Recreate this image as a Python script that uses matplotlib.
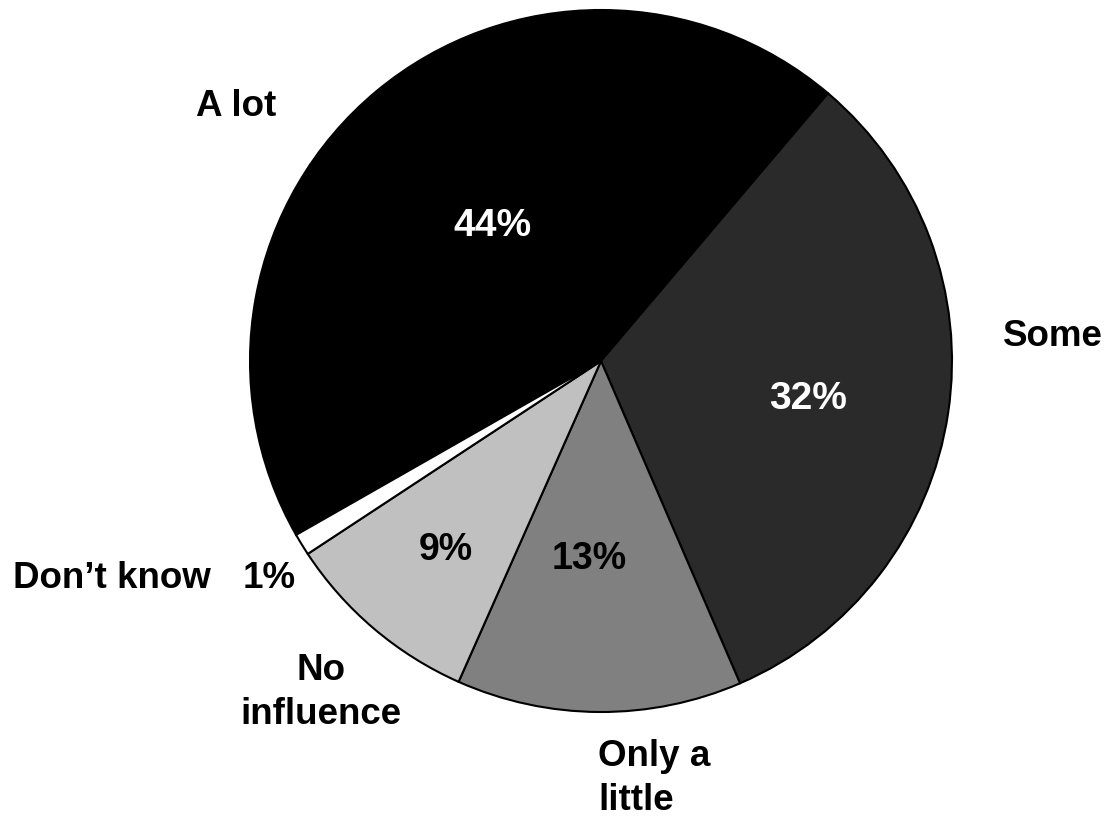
import matplotlib
matplotlib.use("Agg")
import matplotlib.pyplot as plt

# Survey responses: how much influence
categories = ["A lot", "Some", "Only a little", "No influence", "Don\u2019t know"]
shares = [44, 32, 13, 9, 1]
colors = ["#000000", "#2a2a2a", "#808080", "#c0c0c0", "#ffffff"]
pct_colors = ["white", "white", "black", "black", "black"]

plt.rcParams["font.family"] = ["Liberation Sans", "DejaVu Sans"]

W, H = 1111, 819
fig = plt.figure(figsize=(W / 100, H / 100), dpi=100)
ax = fig.add_axes([0, 0, 1, 1])

cx, cy, r = 601, H - 361, 351
a_lot_start = 49.7 + 360 * shares[0] / sum(shares)
ax.pie(shares, colors=colors, startangle=a_lot_start, counterclock=False,
       center=(cx, cy), radius=r,
       wedgeprops=dict(edgecolor="black", linewidth=1.5))
ax.set_xlim(0, W)
ax.set_ylim(0, H)
ax.set_aspect("equal")
ax.axis("off")

fs = 26.5
kw = dict(fontsize=fs, fontweight="bold", ha="center", va="center")

def put(x, y, s, **extra):
    opts = dict(kw)
    opts.update(extra)
    ax.text(x, H - y, s, **opts)

# category labels
put(236, 106, categories[0])
put(1053, 337, categories[1])
put(598, 757, "Only a", ha="left")
put(598, 801, "little", ha="left")
put(321, 671, "No")
put(321, 714, "influence")
put(112, 579, categories[4])

# percentage labels
pct_pos = [(492, 226), (808, 399), (589, 559), (446, 550), (269, 579)]
pct_sizes = [28, 28, 27, 27, 26.5]
for (x, y), v, c, s in zip(pct_pos, shares, pct_colors, pct_sizes):
    put(x, y, f"{v}%", color=c, fontsize=s)

fig.savefig("out.png", dpi=100)
